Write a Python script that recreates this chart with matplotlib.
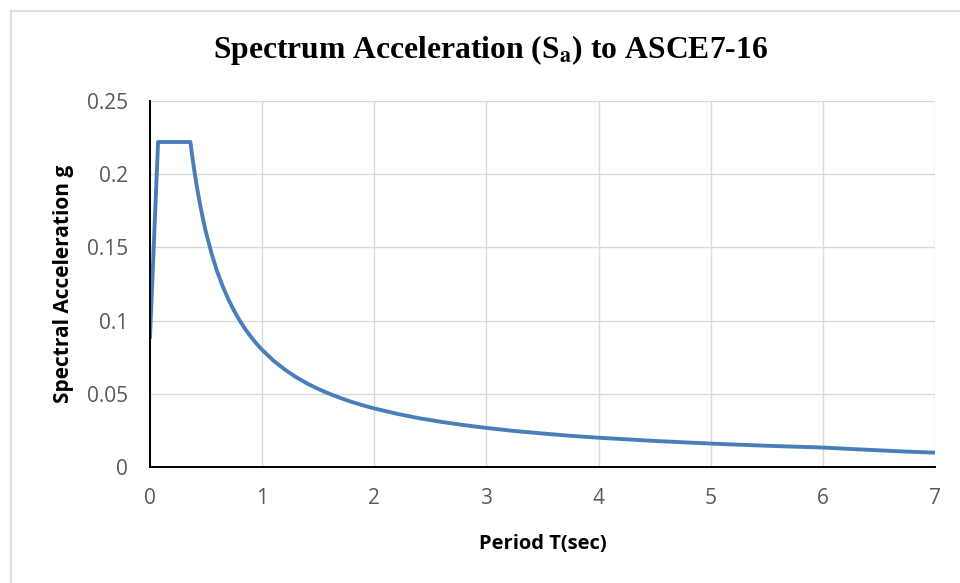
import matplotlib.pyplot as plt
from matplotlib.lines import Line2D

# values
period = [0, 0.072, 0.36, 0.38, 0.4, 0.42, 0.45, 0.48, 0.5, 0.55, 0.6, 0.65,
          0.7, 0.75, 0.8, 0.85, 0.9, 0.95, 1.0, 1.1, 1.2, 1.3, 1.4, 1.5, 1.6,
          1.7, 1.8, 1.9, 2.0, 2.2, 2.4, 2.6, 2.8, 3.0, 3.25, 3.5, 3.75, 4.0,
          4.5, 5.0, 5.5, 6.0, 6.25, 6.5, 6.75, 7.0]
sa = [0.0888, 0.222, 0.222, 0.2105, 0.2000, 0.1905, 0.1778, 0.1667, 0.1600,
      0.1455, 0.1333, 0.1231, 0.1143, 0.1067, 0.1000, 0.0941, 0.0889, 0.0842,
      0.0800, 0.0727, 0.0667, 0.0615, 0.0571, 0.0533, 0.0500, 0.0471, 0.0444,
      0.0421, 0.0400, 0.0364, 0.0333, 0.0308, 0.0286, 0.0267, 0.0246, 0.0229,
      0.0213, 0.0200, 0.0178, 0.0160, 0.0145, 0.0133, 0.0123, 0.0114, 0.0105,
      0.0098]
x_ticks = [0, 1, 2, 3, 4, 5, 6, 7]
y_ticks = [0, 0.05, 0.1, 0.15, 0.2, 0.25]
y_tick_labels = ["0", "0.05", "0.1", "0.15", "0.2", "0.25"]

W, H = 960, 583
fig = plt.figure(figsize=(W / 100, H / 100), dpi=100)
ax = fig.add_axes([150 / W, 1 - 467 / H, (935 - 150) / W, (467 - 101) / H])

ax.plot(period, sa, color="#4a7ebb", linewidth=2.8, solid_joinstyle="round")
ax.set_xlim(0, 7)
ax.set_ylim(0, 0.25)
ax.set_xticks(x_ticks)
ax.set_yticks(y_ticks)
ax.set_yticklabels(y_tick_labels)
ax.grid(color="#d9d9d9", linewidth=1.0)
ax.set_axisbelow(True)
for side in ["top", "right"]:
    ax.spines[side].set_visible(False)
for side in ["left", "bottom"]:
    ax.spines[side].set_color("black")
    ax.spines[side].set_linewidth(1.4)
ax.tick_params(length=0, labelsize=15, labelcolor="#595959")
ax.tick_params(axis="x", pad=15)
ax.tick_params(axis="y", pad=16)
for lab in ax.get_xticklabels() + ax.get_yticklabels():
    lab.set_fontfamily("Open Sans")

ax.set_xlabel("Period T(sec)", fontsize=14.5, fontweight="bold",
              fontfamily="Open Sans", labelpad=18)
ax.set_ylabel("Spectral Acceleration g", fontsize=15, fontweight="bold",
              fontfamily="Open Sans", labelpad=9)

plt.rcParams["mathtext.fontset"] = "stix"
fig.text(491 / W, 1 - 50 / H, r"Spectrum Acceleration (S$_\mathbf{a}$) to ASCE7-16",
         ha="center", va="center", fontsize=22.8, fontweight="bold",
         fontfamily="Liberation Serif")

# chart frame (left and top edges visible)
fig.add_artist(Line2D([11 / W, 11 / W], [0, 1 - 11 / H], color="#d9d9d9", lw=1.2))
fig.add_artist(Line2D([11 / W, 1], [1 - 11 / H, 1 - 11 / H], color="#d9d9d9", lw=1.2))

fig.savefig("out.png", dpi=100, facecolor="white")
